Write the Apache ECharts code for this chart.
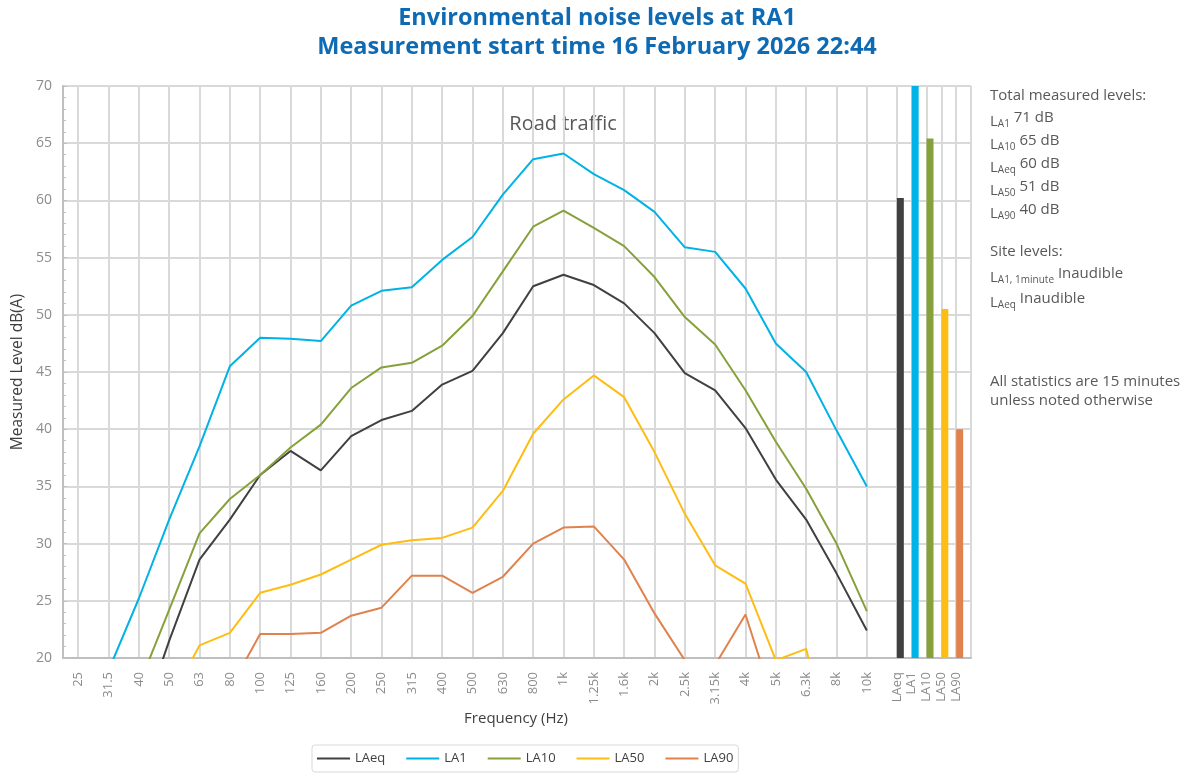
<!DOCTYPE html>
<html>
<head>
<meta charset="utf-8">
<title>Environmental noise levels at RA1</title>
<script src="https://cdn.jsdelivr.net/npm/echarts@6/dist/echarts.min.js"></script>
<style>
  html, body { margin: 0; padding: 0; background: #fff; }
  #main { width: 1194px; height: 774px; }
</style>
</head>
<body>
<div id="main"></div>
<script>
// third-octave bands (Hz)
const freqLabels = ['25', '31.5', '40', '50', '63', '80', '100', '125', '160', '200', '250', '315', '400', '500',
  '630', '800', '1k', '1.25k', '1.6k', '2k', '2.5k', '3.15k', '4k', '5k', '6.3k', '8k', '10k'];

// spectrum per statistic, dB(A) (values under 20 are off the chart)
const laeq = [10, 11, 13.8, 21.5, 28.6, 32.1, 36.0, 38.1, 36.4, 39.4, 40.8, 41.6, 43.9, 45.1, 48.4, 52.5, 53.5,
  52.6, 51.0, 48.4, 44.9, 43.4, 40.1, 35.6, 32.1, 27.4, 22.4];
const la1 = [13, 18.9, 25.2, 32.1, 38.5, 45.5, 48.0, 47.9, 47.7, 50.8, 52.1, 52.4, 54.8, 56.8, 60.5, 63.6, 64.1,
  62.3, 60.9, 59.0, 55.9, 55.5, 52.3, 47.5, 45.0, 39.9, 35.0];
const la10 = [11, 13, 17.6, 24.2, 30.9, 33.9, 36.0, 38.4, 40.4, 43.6, 45.4, 45.8, 47.3, 49.9, 53.8, 57.7, 59.1,
  57.6, 56.0, 53.3, 49.8, 47.4, 43.4, 38.9, 34.8, 30.0, 24.1];
const la50 = [9, 10, 12, 16.1, 21.1, 22.2, 25.7, 26.4, 27.3, 28.6, 29.9, 30.3, 30.5, 31.4, 34.6, 39.6, 42.6,
  44.7, 42.8, 38.0, 32.6, 28.1, 26.5, 19.8, 20.8, 10, 8];
const la90 = [8, 9, 11, 13, 15, 17.3, 22.1, 22.1, 22.2, 23.7, 24.4, 27.2, 27.2, 25.7, 27.1, 30.0, 31.4,
  31.5, 28.6, 23.9, 19.8, 19.4, 23.8, 15.5, 14, 12, 10];

const seriesNames = ['LAeq', 'LA1', 'LA10', 'LA50', 'LA90'];
const seriesColors = ['#404040', '#00b2e6', '#86a13b', '#fdbd14', '#e0824e'];
const spectra = [laeq, la1, la10, la50, la90];

// overall levels (bars on the right)
const statTotals = [60.2, 71, 65.4, 50.5, 40.0];

// notes on the right
const noteSubs = ['A1', 'A10', 'Aeq', 'A50', 'A90'];
const noteValues = [71, 65, 60, 51, 40];
const siteSubs = ['A1, 1minute', 'Aeq'];
const siteValues = ['Inaudible', 'Inaudible'];

const FONT = 'Open Sans';
const gridLine = { color: '#d9d9d9', width: 2 };
const axisGrey = '#8c8c8c';
const noteGrey = '#595959';

const chart = echarts.init(document.getElementById('main'));

const lineSeries = spectra.map((d, i) => ({
  name: seriesNames[i],
  type: 'line',
  xAxisIndex: 0,
  yAxisIndex: 0,
  data: d,
  symbol: 'none',
  clip: true,
  color: seriesColors[i],
  lineStyle: { width: 2, color: seriesColors[i] }
}));

// rich text pieces for the L-subscript notes; L and subscript sit a bit lower
const noteRich = {
  h: { fontSize: 15, fontFamily: FONT, fill: noteGrey },
  L: { fontSize: 15, fontFamily: FONT, fill: noteGrey, verticalAlign: 'top', padding: [4, 0, 0, 0] },
  s: { fontSize: 10, fontFamily: FONT, fill: noteGrey, verticalAlign: 'top', padding: [9, 0, 0, 0] },
  v: { fontSize: 15, fontFamily: FONT, fill: noteGrey, verticalAlign: 'top' }
};
function noteText(y, str) {
  return { type: 'text', left: 990, top: y, silent: true, style: { text: str, rich: noteRich, fill: noteGrey } };
}
const notes = [];
notes.push(noteText(88, '{h|Total measured levels:}'));
noteSubs.forEach((s, i) => {
  notes.push(noteText(110 + i * 23, '{L|L}{s|' + s + '}{v| ' + noteValues[i] + ' dB}'));
});
notes.push(noteText(244, '{h|Site levels:}'));
siteSubs.forEach((s, i) => {
  notes.push(noteText(266 + i * 25, '{L|L}{s|' + s + '}{v| ' + siteValues[i] + '}'));
});
notes.push(noteText(374, '{h|All statistics are 15 minutes}'));
notes.push(noteText(393, '{h|unless noted otherwise}'));

const option = {
  animation: false,
  textStyle: { fontFamily: FONT },
  title: {
    text: 'Environmental noise levels at RA1\nMeasurement start time 16 February 2026 22:44',
    left: 'center',
    top: 4,
    padding: 0,
    textStyle: { color: '#0f6ab4', fontSize: 23.5, fontWeight: 'bold', lineHeight: 29, fontFamily: FONT }
  },
  legend: {
    data: seriesNames.map((n) => ({ name: n, icon: 'rect' })),
    left: 312,
    top: 745,
    itemWidth: 33,
    itemHeight: 2,
    itemGap: 21,
    padding: [7, 5],
    borderColor: '#d9d9d9',
    borderWidth: 1,
    borderRadius: 3,
    textStyle: { color: '#404040', fontSize: 13, fontFamily: FONT }
  },
  grid: [
    { left: 63, top: 86, width: 819, height: 572 },
    { left: 882, top: 86, width: 89, height: 572 }
  ],
  xAxis: [
    {
      type: 'category',
      gridIndex: 0,
      data: freqLabels,
      boundaryGap: true,
      axisLine: { lineStyle: { color: '#bfbfbf', width: 2 } },
      axisTick: { show: false },
      axisLabel: { rotate: 90, color: axisGrey, fontSize: 13, margin: 14, interval: 0 },
      splitLine: { show: true, interval: 0, alignWithLabel: true, lineStyle: gridLine }
    },
    {
      type: 'category',
      gridIndex: 1,
      data: [''].concat(seriesNames, ['']),
      boundaryGap: false,
      axisLine: { lineStyle: { color: '#bfbfbf', width: 2 } },
      axisTick: { show: false },
      axisLabel: { rotate: 90, color: axisGrey, fontSize: 13, margin: 14, interval: 0 },
      splitLine: { show: true, interval: (idx) => idx > 0, lineStyle: gridLine }
    }
  ],
  yAxis: [
    {
      type: 'value',
      gridIndex: 0,
      min: 20,
      max: 70,
      interval: 5,
      name: 'Measured Level dB(A)',
      nameLocation: 'middle',
      nameGap: 36,
      nameTextStyle: { color: '#404040', fontSize: 15.5, fontFamily: FONT },
      axisLine: { show: true, lineStyle: { color: '#bfbfbf', width: 2 } },
      axisTick: { show: true, inside: true, length: 4, lineStyle: { color: '#bfbfbf' } },
      minorTick: { show: true, splitNumber: 5, length: 3, lineStyle: { color: '#bfbfbf' } },
      axisLabel: { color: axisGrey, fontSize: 14, margin: 11 },
      splitLine: { show: true, lineStyle: gridLine }
    },
    {
      type: 'value',
      gridIndex: 1,
      min: 20,
      max: 70,
      interval: 5,
      axisLine: { show: false },
      axisTick: { show: false },
      axisLabel: { show: false },
      splitLine: { show: true, lineStyle: gridLine }
    }
  ],
  series: lineSeries.concat([
    // empty slot so the bars sit just right of their grid line
    { name: '_slot', type: 'bar', xAxisIndex: 1, yAxisIndex: 1, barWidth: 7, barGap: 0, data: [] },
    {
      name: 'Totals',
      type: 'bar',
      xAxisIndex: 1,
      yAxisIndex: 1,
      barWidth: 7,
      barGap: 0,
      clip: true,
      data: seriesNames.map((n, i) => ({ value: [n, statTotals[i]], itemStyle: { color: seriesColors[i] } }))
    }
  ]),
  graphic: [
    {
      type: 'text', silent: true,
      style: { text: 'Road traffic', x: 563, y: 124, align: 'center', verticalAlign: 'middle',
        fill: '#595959', fontSize: 20, fontFamily: FONT }
    },
    {
      type: 'text', silent: true,
      style: { text: 'Frequency (Hz)', x: 516, y: 719, align: 'center', verticalAlign: 'middle',
        fill: '#404040', fontSize: 15, fontFamily: FONT }
    }
  ].concat(notes)
};

chart.setOption(option);
</script>
</body>
</html>
